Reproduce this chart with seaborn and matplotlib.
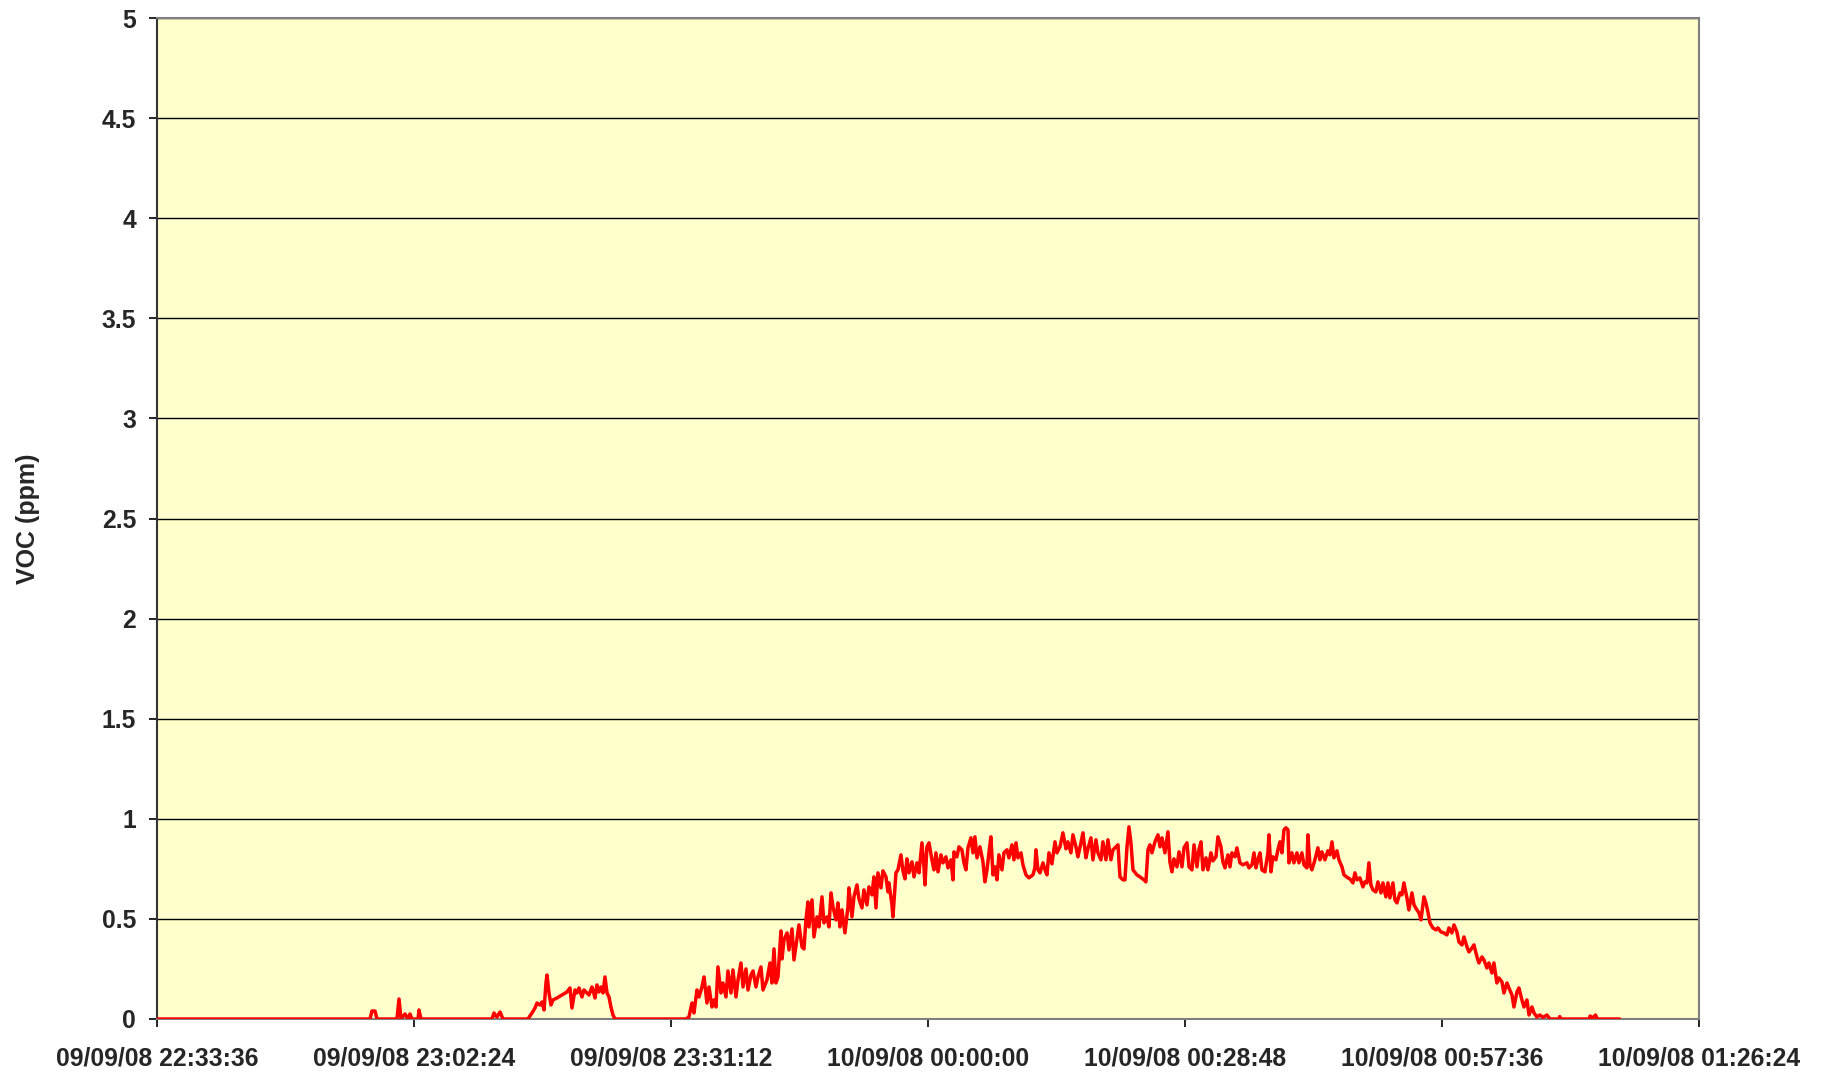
import numpy as np
import pandas as pd
import matplotlib
matplotlib.use("Agg")
import matplotlib.pyplot as plt
import seaborn as sns

# ---- data: (elapsed minutes from 09/09/08 22:33:36, VOC ppm) ----
start_time = "2008-09-09 22:33:36"

early_spikes = [
    (0.0, 0.0), (23.87, 0.0), (24.09, 0.04), (24.43, 0.04), (24.65, 0.0),
    (26.89, 0.0), (27.12, 0.10), (27.34, 0.0), (27.79, 0.025), (28.13, 0.0),
    (28.35, 0.025), (28.57, 0.0), (29.25, 0.0), (29.36, 0.045), (29.58, 0.0),
    (37.54, 0.0), (37.76, 0.03), (38.1, 0.01), (38.44, 0.035), (38.77, 0.0),
]

first_hump = [
    (41.57, 0.0), (42.02, 0.03), (42.36, 0.055), (42.58, 0.08), (42.92, 0.07),
    (43.14, 0.085), (43.37, 0.045), (43.59, 0.18), (43.70, 0.22), (43.93, 0.13),
    (44.15, 0.07), (44.37, 0.095), (44.82, 0.105), (45.38, 0.12), (45.94, 0.135),
    (46.28, 0.155), (46.50, 0.055), (46.84, 0.145), (47.06, 0.13), (47.29, 0.155),
    (47.62, 0.11), (47.85, 0.145), (48.18, 0.13), (48.41, 0.12), (48.74, 0.16),
    (48.86, 0.145), (49.08, 0.105), (49.30, 0.17), (49.53, 0.135), (49.75, 0.16),
    (49.98, 0.13), (50.20, 0.21), (50.43, 0.13), (50.65, 0.11), (50.87, 0.06),
    (51.10, 0.02), (51.32, 0.0), (59.28, 0.0),
]

main_rise = [
    (59.61, 0.01), (59.95, 0.08), (60.17, 0.03), (60.51, 0.145), (60.74, 0.11),
    (61.07, 0.16), (61.30, 0.21), (61.63, 0.08), (61.86, 0.16), (62.19, 0.06),
    (62.42, 0.095), (62.64, 0.06), (62.86, 0.26), (63.20, 0.13), (63.42, 0.18),
    (63.76, 0.11), (63.98, 0.24), (64.32, 0.13), (64.54, 0.245), (64.88, 0.11),
    (65.11, 0.195), (65.44, 0.28), (65.67, 0.16), (66.00, 0.25), (66.23, 0.145),
    (66.56, 0.22), (66.79, 0.24), (67.12, 0.16), (67.35, 0.21), (67.68, 0.26),
    (67.91, 0.145), (68.35, 0.195), (68.69, 0.28), (68.91, 0.18), (69.14, 0.35),
    (69.36, 0.18), (69.59, 0.21), (69.92, 0.44), (70.04, 0.30), (70.26, 0.395),
    (70.60, 0.43), (70.82, 0.345), (71.16, 0.45), (71.38, 0.295), (71.72, 0.40),
    (71.94, 0.47), (72.28, 0.36), (72.50, 0.35), (72.72, 0.495), (72.95, 0.585),
    (73.06, 0.46), (73.40, 0.595), (73.62, 0.41), (73.96, 0.51), (74.18, 0.46),
    (74.52, 0.61), (74.74, 0.48), (75.08, 0.51), (75.30, 0.46), (75.53, 0.63),
    (75.75, 0.56), (76.09, 0.495), (76.31, 0.58), (76.53, 0.46), (76.76, 0.545),
    (77.09, 0.43), (77.43, 0.56), (77.54, 0.655), (77.88, 0.51), (78.10, 0.61),
    (78.44, 0.67), (78.66, 0.60), (79.00, 0.555), (79.22, 0.645), (79.56, 0.57),
    (79.78, 0.66), (80.12, 0.62), (80.34, 0.71), (80.57, 0.555), (80.79, 0.73),
    (81.13, 0.655), (81.35, 0.74), (81.69, 0.71), (81.91, 0.635), (82.02, 0.68),
    (82.36, 0.57), (82.47, 0.51), (82.81, 0.73), (83.03, 0.745), (83.37, 0.82),
    (83.59, 0.74),
]

plateau = [
    (83.82, 0.70), (84.04, 0.80), (84.27, 0.73), (84.60, 0.785), (84.83, 0.71),
    (85.16, 0.78), (85.39, 0.73), (85.72, 0.88), (85.95, 0.76), (86.06, 0.67),
    (86.28, 0.86), (86.51, 0.88), (86.84, 0.795), (87.07, 0.745), (87.29, 0.83),
    (87.52, 0.735), (87.85, 0.82), (88.08, 0.78), (88.41, 0.81), (88.64, 0.755),
    (88.97, 0.795), (89.20, 0.695), (89.31, 0.835), (89.64, 0.81), (89.87, 0.86),
    (90.20, 0.845), (90.43, 0.78), (90.65, 0.745), (90.88, 0.855), (91.21, 0.905),
    (91.44, 0.83), (91.66, 0.91), (91.89, 0.805), (92.22, 0.86), (92.56, 0.785),
    (92.78, 0.685), (93.01, 0.745), (93.23, 0.83), (93.45, 0.91), (93.68, 0.72),
    (93.90, 0.76), (94.13, 0.695), (94.35, 0.82), (94.69, 0.745), (94.91, 0.83),
    (95.25, 0.845), (95.47, 0.805), (95.81, 0.87), (96.03, 0.795), (96.26, 0.88),
    (96.48, 0.805), (96.82, 0.83), (97.04, 0.77), (97.38, 0.72), (97.71, 0.705),
    (98.16, 0.72), (98.38, 0.755), (98.50, 0.845), (98.72, 0.745), (98.95, 0.73),
    (99.28, 0.78), (99.51, 0.745), (99.73, 0.72), (99.95, 0.83), (100.29, 0.775),
    (100.63, 0.885), (100.85, 0.83), (101.19, 0.86), (101.52, 0.93), (101.86, 0.85),
    (102.08, 0.885), (102.42, 0.83), (102.64, 0.92), (102.98, 0.86), (103.20, 0.81),
    (103.54, 0.88), (103.76, 0.93), (104.10, 0.805), (104.32, 0.85), (104.66, 0.905),
    (104.88, 0.795), (105.22, 0.895), (105.44, 0.83), (105.78, 0.795), (106.00, 0.885),
    (106.34, 0.795), (106.56, 0.895), (106.90, 0.795), (107.13, 0.845), (107.46, 0.86),
    (107.69, 0.87), (107.91, 0.71), (108.25, 0.695), (108.47, 0.695), (108.70, 0.86),
    (108.92, 0.96), (109.14, 0.88), (109.37, 0.745), (109.81, 0.72), (110.15, 0.71),
    (110.60, 0.695), (110.82, 0.685), (111.05, 0.845), (111.27, 0.87), (111.50, 0.83),
    (111.83, 0.885), (112.17, 0.92), (112.40, 0.86), (112.62, 0.905), (112.95, 0.83),
    (113.29, 0.935), (113.51, 0.785), (113.74, 0.735), (113.96, 0.80), (114.30, 0.76),
    (114.53, 0.835), (114.86, 0.76), (115.09, 0.855), (115.42, 0.88), (115.65, 0.76),
    (115.98, 0.745), (116.21, 0.87), (116.54, 0.76), (116.76, 0.845), (116.99, 0.885),
    (117.21, 0.745), (117.55, 0.805), (117.77, 0.745), (118.11, 0.83), (118.33, 0.79),
    (118.67, 0.81), (118.89, 0.91), (119.23, 0.86), (119.45, 0.785), (119.68, 0.755),
    (120.01, 0.82), (120.24, 0.76), (120.46, 0.83), (120.80, 0.81), (121.02, 0.855),
    (121.36, 0.78), (121.69, 0.77), (122.14, 0.78), (122.37, 0.755), (122.70, 0.77),
    (122.93, 0.83), (123.15, 0.755), (123.37, 0.795), (123.60, 0.83), (123.82, 0.745),
    (124.16, 0.735), (124.49, 0.83), (124.61, 0.92), (124.83, 0.735), (125.05, 0.81),
    (125.39, 0.795), (125.61, 0.845), (125.84, 0.885), (126.06, 0.83), (126.29, 0.945),
    (126.51, 0.955), (126.74, 0.945), (126.85, 0.78), (127.18, 0.83), (127.41, 0.78),
    (127.74, 0.83), (127.97, 0.78), (128.30, 0.83), (128.53, 0.77), (128.86, 0.755),
    (128.97, 0.92), (129.20, 0.77), (129.42, 0.745), (129.76, 0.795), (130.09, 0.855),
    (130.32, 0.795), (130.54, 0.835), (130.88, 0.795), (131.21, 0.84), (131.44, 0.82),
    (131.67, 0.885), (131.89, 0.805), (132.23, 0.84), (132.45, 0.795), (132.79, 0.76),
    (133.01, 0.72), (133.46, 0.705), (133.68, 0.70),
]

decline = [
    (134.02, 0.68), (134.24, 0.73), (134.47, 0.695), (134.80, 0.705), (135.14, 0.66),
    (135.36, 0.685), (135.59, 0.68), (135.81, 0.78), (136.03, 0.67), (136.26, 0.645),
    (136.59, 0.635), (136.82, 0.685), (137.16, 0.63), (137.38, 0.68), (137.71, 0.61),
    (137.94, 0.68), (138.16, 0.605), (138.50, 0.68), (138.72, 0.595), (138.95, 0.58),
    (139.29, 0.63), (139.51, 0.62), (139.73, 0.68), (140.07, 0.605), (140.29, 0.545),
    (140.63, 0.63), (140.86, 0.57), (141.19, 0.545), (141.42, 0.53), (141.64, 0.495),
    (141.98, 0.61), (142.20, 0.58), (142.42, 0.535), (142.65, 0.48), (142.98, 0.455),
    (143.32, 0.445), (143.54, 0.455), (143.88, 0.435), (144.22, 0.43), (144.55, 0.42),
    (144.78, 0.455), (145.11, 0.43), (145.34, 0.47), (145.67, 0.435), (145.90, 0.385),
    (146.24, 0.37), (146.46, 0.41), (146.80, 0.36), (147.02, 0.335), (147.36, 0.355),
    (147.58, 0.37), (147.92, 0.31), (148.14, 0.28), (148.48, 0.31), (148.70, 0.295),
    (149.03, 0.255), (149.26, 0.28), (149.59, 0.23), (149.82, 0.28), (150.15, 0.18),
    (150.38, 0.205), (150.72, 0.185), (150.94, 0.13), (151.28, 0.18), (151.50, 0.155),
    (151.84, 0.12), (152.06, 0.06), (152.40, 0.135), (152.62, 0.155), (152.96, 0.095),
    (153.19, 0.06), (153.52, 0.095), (153.75, 0.02), (154.08, 0.06), (154.31, 0.03),
    (154.64, 0.01), (154.97, 0.02), (155.31, 0.008), (155.76, 0.02), (156.09, 0.0),
]

tail = [
    (157.1, 0.0), (157.2, 0.012), (157.3, 0.0), (160.5, 0.0), (160.6, 0.015),
    (160.9, 0.005), (161.2, 0.02), (161.4, 0.0), (163.9, 0.0),
]

axis_span_min = 172.8
tick_step_min = 28.8
y_ticks = [0, 0.5, 1, 1.5, 2, 2.5, 3, 3.5, 4, 4.5, 5]

readings = early_spikes + first_hump + main_rise + plateau + decline + tail
t0 = pd.Timestamp(start_time)
df = pd.DataFrame({
    "time": t0 + pd.to_timedelta([r[0] for r in readings], unit="min"),
    "VOC": [r[1] for r in readings],
})

sns.set_style("white")
plt.rcParams["font.family"] = ["Liberation Sans", "DejaVu Sans"]

fig = plt.figure(figsize=(18.22, 10.74), dpi=100)
ax = fig.add_axes([157 / 1822, 1 - 1019 / 1074, (1699 - 157) / 1822, (1019 - 18) / 1074])
ax.set_facecolor("#FFFFCC")

sns.lineplot(data=df, x="time", y="VOC", ax=ax, color="#FF0000", linewidth=2.5,
             estimator=None, zorder=3)

ax.set_ylim(0, 5)
ax.set_yticks(y_ticks)
ax.set_yticklabels([f"{v:g}" for v in y_ticks])
ax.yaxis.grid(True, color="black", linewidth=1.0)
ax.xaxis.grid(False)

xt = [t0 + pd.Timedelta(minutes=tick_step_min * i) for i in range(7)]
ax.set_xlim(t0, t0 + pd.Timedelta(minutes=axis_span_min))
ax.set_xticks(xt)
ax.set_xticklabels([t.strftime("%d/%m/%y %H:%M:%S") for t in xt])

ax.tick_params(axis="both", which="major", direction="out", length=6, width=1.2,
               color="black", labelsize=17.8, bottom=True, left=True)
for lab in ax.get_xticklabels() + ax.get_yticklabels():
    lab.set_fontweight("bold")
ax.tick_params(axis="x", pad=13.5)
ax.tick_params(axis="y", pad=9)

ax.set_xlabel("")
ax.set_ylabel("VOC (ppm)", fontsize=18, fontweight="bold")
ax.yaxis.set_label_coords(-0.076, 0.5)

for side in ["top", "right", "bottom"]:
    ax.spines[side].set_color("#808080")
    ax.spines[side].set_linewidth(1.5)
ax.spines["left"].set_color("#333333")
ax.spines["left"].set_linewidth(1.5)

fig.savefig("out.png", dpi=100, facecolor="white")
